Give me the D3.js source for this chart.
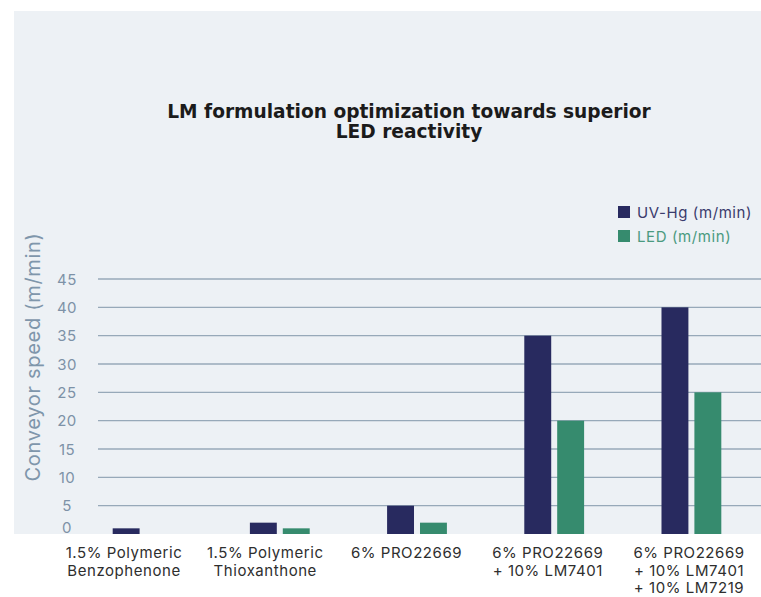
<!DOCTYPE html>
<meta charset="utf-8">
<script src="https://d3js.org/d3.v7.min.js"></script>
<style>
  body { margin: 0; background: #fff; }
  svg text { font-family: Inter, "Noto Sans", sans-serif; }
</style>
<body>
<div id="chart"></div>
<script>
  // chart values
  const categories = [
    ["1.5% Polymeric", "Benzophenone"],
    ["1.5% Polymeric", "Thioxanthone"],
    ["6% PRO22669"],
    ["6% PRO22669", "+ 10% LM7401"],
    ["6% PRO22669", "+ 10% LM7401", "+ 10% LM7219"]
  ];
  const uvHg = [1, 2, 5, 35, 40];
  const led = [0, 1, 2, 20, 25];
  const seriesNames = ["UV-Hg (m/min)", "LED (m/min)"];
  const seriesColors = ["#282a5f", "#368b6e"];
  const yTicks = [0, 5, 10, 15, 20, 25, 30, 35, 40, 45];
  const titleLines = ["LM formulation optimization towards superior", "LED reactivity"];

  const width = 761, height = 597;

  const svg = d3.select("#chart").append("svg")
    .attr("width", width)
    .attr("height", height);

  // panel background
  svg.append("rect")
    .attr("x", 14).attr("y", 11)
    .attr("width", width - 14).attr("height", 523)
    .attr("fill", "#edf1f5");

  const y = d3.scaleLinear().domain([0, 45]).range([534, 279]);

  const keys = categories.map((d, i) => i);
  const x0 = d3.scaleBand().domain(keys)
    .range([74, 760])
    .paddingInner(0.564).paddingOuter(0.282);
  const x1 = d3.scaleBand().domain([0, 1])
    .range([0, x0.bandwidth()])
    .paddingInner(0.182);
  const xLabel = d3.scalePoint().domain(keys).range([124, 689]);

  // gridlines
  svg.append("g").selectAll("line")
    .data(yTicks.filter(d => d > 0))
    .join("line")
    .attr("x1", 98).attr("x2", width)
    .attr("y1", d => y(d)).attr("y2", d => y(d))
    .attr("stroke", "#97a9b9")
    .attr("stroke-width", 1.4);

  // y tick labels
  svg.append("g").selectAll("text")
    .data(yTicks)
    .join("text")
    .attr("x", 67)
    .attr("y", d => y(d))
    .attr("text-anchor", "middle")
    .attr("dominant-baseline", d => d === 0 ? "auto" : "central")
    .attr("dy", d => d === 0 ? -1 : 0)
    .attr("fill", "#7d92a7")
    .style("font-size", "15px")
    .style("letter-spacing", "0.5px")
    .text(d => d);

  // y axis title
  svg.append("text")
    .attr("transform", "translate(40,357) rotate(-90)")
    .attr("text-anchor", "middle")
    .attr("fill", "#7f96ab")
    .style("font-size", "20px")
    .style("letter-spacing", "0.7px")
    .text("Conveyor speed (m/min)");

  // bars
  const groups = svg.append("g").selectAll("g")
    .data(keys)
    .join("g")
    .attr("transform", d => `translate(${x0(d)},0)`);

  groups.selectAll("rect")
    .data(i => [uvHg[i], led[i]].map((v, s) => ({ v, s })))
    .join("rect")
    .attr("x", d => x1(d.s))
    .attr("width", x1.bandwidth())
    .attr("y", d => y(d.v))
    .attr("height", d => y(0) - y(d.v))
    .attr("fill", d => seriesColors[d.s]);

  // category labels
  svg.append("g").selectAll("text")
    .data(keys)
    .join("text")
    .attr("x", d => xLabel(d))
    .attr("y", 558)
    .attr("text-anchor", "middle")
    .attr("fill", "#2e2e2e")
    .style("font-size", "15px")
    .style("letter-spacing", "0.55px")
    .each(function(d) {
      d3.select(this).selectAll("tspan")
        .data(categories[d])
        .join("tspan")
        .attr("x", xLabel(d))
        .attr("dy", (t, j) => j === 0 ? 0 : 17.5)
        .text(t => t);
    });

  // title
  svg.append("text")
    .attr("x", 409)
    .attr("y", 118)
    .attr("text-anchor", "middle")
    .attr("fill", "#1b1b1b")
    .style("font-family", "'DejaVu Sans', sans-serif")
    .style("font-size", "18.6px")
    .style("font-weight", 700)
    .selectAll("tspan")
    .data(titleLines)
    .join("tspan")
    .attr("x", 409)
    .attr("dy", (t, j) => j === 0 ? 0 : 20)
    .text(t => t);

  // legend
  const legend = svg.append("g").selectAll("g")
    .data(seriesNames)
    .join("g")
    .attr("transform", (d, i) => `translate(618,${206 + i * 24})`);

  legend.append("rect")
    .attr("width", 12).attr("height", 12)
    .attr("fill", (d, i) => seriesColors[i]);

  legend.append("text")
    .attr("x", 19).attr("y", 6)
    .attr("dominant-baseline", "central")
    .attr("fill", (d, i) => i === 0 ? "#3a3b6c" : "#4a9a80")
    .style("font-size", "15px")
    .style("letter-spacing", "0.6px")
    .text(d => d);
</script>
</body>
